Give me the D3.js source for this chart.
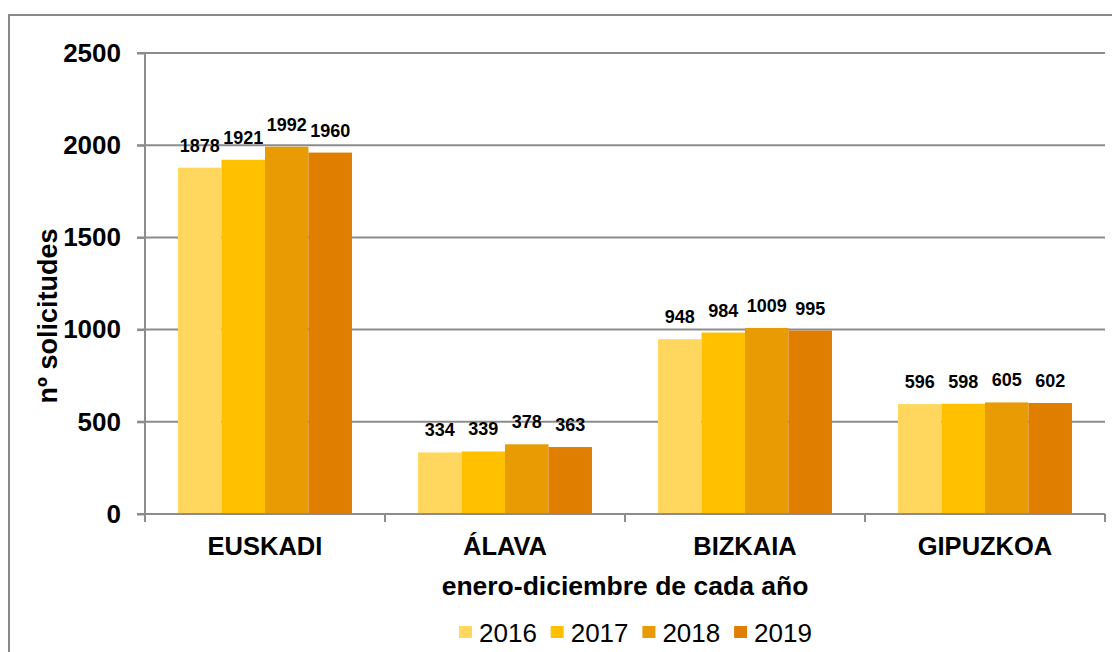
<!DOCTYPE html>
<html>
<head>
<meta charset="utf-8">
<script src="https://cdn.jsdelivr.net/npm/d3@7"></script>
<style>
  html, body { margin: 0; padding: 0; background: #fff; }
  svg { display: block; font-family: "Liberation Sans", Arial, sans-serif; }
</style>
</head>
<body>
<div id="chart"></div>
<script>
// Data
const categories = ['EUSKADI', 'ÁLAVA', 'BIZKAIA', 'GIPUZKOA'];
const years = ['2016', '2017', '2018', '2019'];
const values2016 = [1878, 334, 948, 596];
const values2017 = [1921, 339, 984, 598];
const values2018 = [1992, 378, 1009, 605];
const values2019 = [1960, 363, 995, 602];
const yTicks = [0, 500, 1000, 1500, 2000, 2500];
const colors = ['#ffd75e', '#ffc000', '#e89b03', '#e07e00'];

const series = [values2016, values2017, values2018, values2019];
const rows = categories.map((c, i) => ({
  cat: c,
  vals: years.map((y, j) => ({ year: y, value: series[j][i] }))
}));

const W = 1112, H = 652;
const margin = { top: 53, left: 145, right: 7, bottom: 138 };
const plotW = W - margin.left - margin.right;
const plotH = H - margin.top - margin.bottom;

const svg = d3.select('#chart').append('svg')
  .attr('width', W).attr('height', H);

// outer frame
svg.append('rect')
  .attr('x', 9).attr('y', 15)
  .attr('width', W + 10).attr('height', H + 10)
  .attr('fill', 'none').attr('stroke', '#898989').attr('stroke-width', 2);

const g = svg.append('g').attr('transform', `translate(${margin.left},${margin.top})`);

const x0 = d3.scaleBand().domain(categories).range([0, plotW]).paddingInner(0).paddingOuter(0);
const x1 = d3.scaleBand().domain(years).range([33, x0.bandwidth() - 33]);
const y = d3.scaleLinear().domain([0, 2500]).range([plotH, 0]);

// gridlines
g.append('g')
  .selectAll('line').data(yTicks.filter(d => d > 0)).join('line')
  .attr('x1', -8).attr('x2', plotW)
  .attr('y1', d => y(d)).attr('y2', d => y(d))
  .attr('stroke', '#8c8c8c').attr('stroke-width', 2);

// y axis
const yAxis = g.append('g')
  .call(d3.axisLeft(y).tickValues(yTicks).tickSize(8).tickPadding(16).tickFormat(d3.format('d')));
yAxis.select('.domain').attr('stroke', '#8c8c8c').attr('stroke-width', 2).attr('d', `M0,0V${plotH}`);
yAxis.selectAll('.tick line').attr('stroke', '#8c8c8c').attr('stroke-width', 2);
yAxis.selectAll('.tick text')
  .attr('font-size', 26).attr('font-weight', 'bold').attr('fill', '#000')
  .attr('font-family', '"Liberation Sans", Arial, sans-serif');

// bars
const groups = g.append('g').selectAll('g').data(rows).join('g')
  .attr('transform', d => `translate(${x0(d.cat)},0)`);

groups.selectAll('rect').data(d => d.vals).join('rect')
  .attr('x', d => x1(d.year))
  .attr('width', x1.bandwidth())
  .attr('y', d => y(d.value))
  .attr('height', d => plotH - y(d.value))
  .attr('fill', (d, i) => colors[i]);

groups.selectAll('text').data(d => d.vals).join('text')
  .attr('x', d => x1(d.year) + x1.bandwidth() / 2)
  .attr('y', d => y(d.value) - 16)
  .attr('text-anchor', 'middle')
  .attr('font-size', 18).attr('font-weight', 'bold')
  .text(d => d.value);

// x axis
const xAxis = g.append('g').attr('transform', `translate(0,${plotH})`);
xAxis.append('line')
  .attr('x1', -8).attr('x2', plotW)
  .attr('stroke', '#8c8c8c').attr('stroke-width', 2);
xAxis.selectAll('line.tk').data(d3.range(categories.length + 1)).join('line')
  .attr('class', 'tk')
  .attr('x1', i => i * x0.bandwidth()).attr('x2', i => i * x0.bandwidth())
  .attr('y1', 0).attr('y2', 8)
  .attr('stroke', '#8c8c8c').attr('stroke-width', 2);
xAxis.selectAll('text').data(categories).join('text')
  .attr('x', d => x0(d) + x0.bandwidth() / 2)
  .attr('y', 41)
  .attr('text-anchor', 'middle')
  .attr('font-size', 25.5).attr('font-weight', 'bold')
  .text(d => d);

// axis titles
svg.append('text')
  .attr('x', margin.left + plotW / 2).attr('y', 595)
  .attr('text-anchor', 'middle')
  .attr('font-size', 26.5).attr('font-weight', 'bold')
  .text('enero-diciembre de cada año');

svg.append('text')
  .attr('transform', 'translate(57,316) rotate(-90)')
  .attr('text-anchor', 'middle')
  .attr('font-size', 27).attr('font-weight', 'bold')
  .text('nº solicitudes');

// legend
const legend = svg.append('g').attr('transform', 'translate(459,626)');
const item = legend.selectAll('g').data(years).join('g')
  .attr('transform', (d, i) => `translate(${i * 91.7},0)`);
item.append('rect').attr('width', 13).attr('height', 12).attr('fill', (d, i) => colors[i]);
item.append('text').attr('x', 20).attr('y', 16)
  .attr('font-size', 26).text(d => d);
</script>
</body>
</html>
